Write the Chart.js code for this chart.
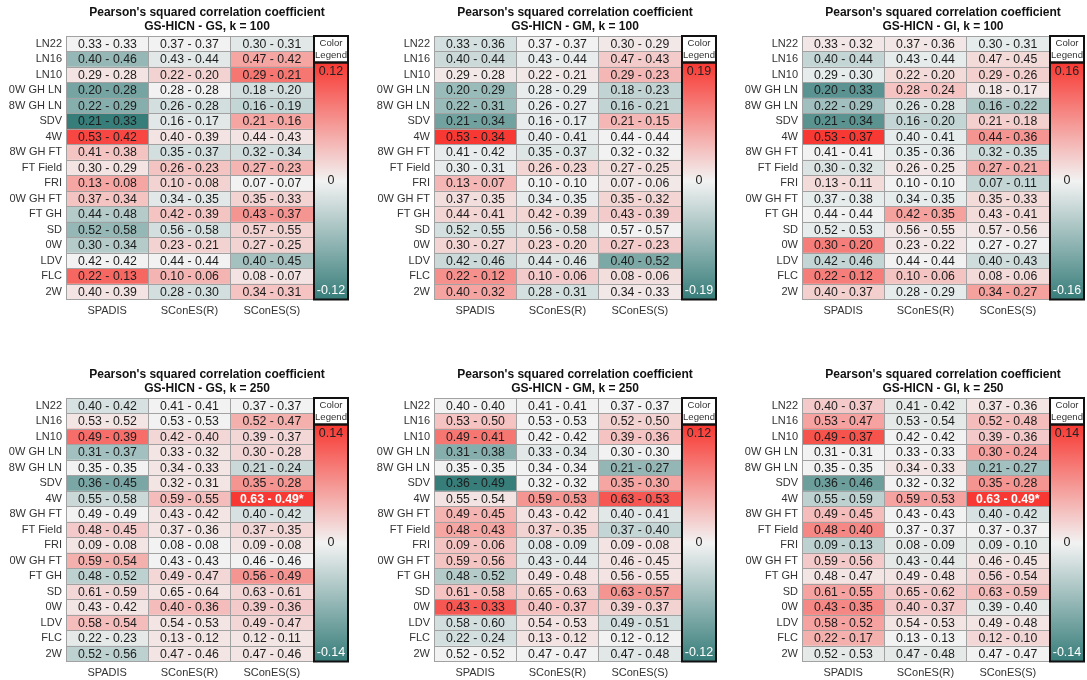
<!DOCTYPE html>
<html>
<head>
<meta charset="utf-8">
<script src="https://cdn.jsdelivr.net/npm/chart.js@4.4.1/dist/chart.umd.min.js"></script>
<style>
  html, body { margin: 0; padding: 0; background: #fff; width: 1087px; height: 680px; overflow: hidden; }
  canvas { position: absolute; }
</style>
</head>
<body>
<script>
// Phenotypes (rows) and selection methods (columns)
const traits = ['LN22', 'LN16', 'LN10', '0W GH LN', '8W GH LN', 'SDV', '4W', '8W GH FT',
  'FT Field', 'FRI', '0W GH FT', 'FT GH', 'SD', '0W', 'LDV', 'FLC', '2W'];
const methods = ['SPADIS', 'SConES(R)', 'SConES(S)'];
const networks = ['GS', 'GM', 'GI'];
const kValues = [100, 250];

// Each row: SPADIS (GS-HICN, net) | SConES(R) (GS-HICN, net) | SConES(S) (GS-HICN, net)
const gsK100 = [
  [0.33, 0.33, 0.37, 0.37, 0.30, 0.31],
  [0.40, 0.46, 0.43, 0.44, 0.47, 0.42],
  [0.29, 0.28, 0.22, 0.20, 0.29, 0.21],
  [0.20, 0.28, 0.28, 0.28, 0.18, 0.20],
  [0.22, 0.29, 0.26, 0.28, 0.16, 0.19],
  [0.21, 0.33, 0.16, 0.17, 0.21, 0.16],
  [0.53, 0.42, 0.40, 0.39, 0.44, 0.43],
  [0.41, 0.38, 0.35, 0.37, 0.32, 0.34],
  [0.30, 0.29, 0.26, 0.23, 0.27, 0.23],
  [0.13, 0.08, 0.10, 0.08, 0.07, 0.07],
  [0.37, 0.34, 0.34, 0.35, 0.35, 0.33],
  [0.44, 0.48, 0.42, 0.39, 0.43, 0.37],
  [0.52, 0.58, 0.56, 0.58, 0.57, 0.55],
  [0.30, 0.34, 0.23, 0.21, 0.27, 0.25],
  [0.42, 0.42, 0.44, 0.44, 0.40, 0.45],
  [0.22, 0.13, 0.10, 0.06, 0.08, 0.07],
  [0.40, 0.39, 0.28, 0.30, 0.34, 0.31]
];
const gmK100 = [
  [0.33, 0.36, 0.37, 0.37, 0.30, 0.29],
  [0.40, 0.44, 0.43, 0.44, 0.47, 0.43],
  [0.29, 0.28, 0.22, 0.21, 0.29, 0.23],
  [0.20, 0.29, 0.28, 0.29, 0.18, 0.23],
  [0.22, 0.31, 0.26, 0.27, 0.16, 0.21],
  [0.21, 0.34, 0.16, 0.17, 0.21, 0.15],
  [0.53, 0.34, 0.40, 0.41, 0.44, 0.44],
  [0.41, 0.42, 0.35, 0.37, 0.32, 0.32],
  [0.30, 0.31, 0.26, 0.23, 0.27, 0.25],
  [0.13, 0.07, 0.10, 0.10, 0.07, 0.06],
  [0.37, 0.35, 0.34, 0.35, 0.35, 0.32],
  [0.44, 0.41, 0.42, 0.39, 0.43, 0.39],
  [0.52, 0.55, 0.56, 0.58, 0.57, 0.57],
  [0.30, 0.27, 0.23, 0.20, 0.27, 0.23],
  [0.42, 0.46, 0.44, 0.46, 0.40, 0.52],
  [0.22, 0.12, 0.10, 0.06, 0.08, 0.06],
  [0.40, 0.32, 0.28, 0.31, 0.34, 0.33]
];
const giK100 = [
  [0.33, 0.32, 0.37, 0.36, 0.30, 0.31],
  [0.40, 0.44, 0.43, 0.44, 0.47, 0.45],
  [0.29, 0.30, 0.22, 0.20, 0.29, 0.26],
  [0.20, 0.33, 0.28, 0.24, 0.18, 0.17],
  [0.22, 0.29, 0.26, 0.28, 0.16, 0.22],
  [0.21, 0.34, 0.16, 0.20, 0.21, 0.18],
  [0.53, 0.37, 0.40, 0.41, 0.44, 0.36],
  [0.41, 0.41, 0.35, 0.36, 0.32, 0.35],
  [0.30, 0.32, 0.26, 0.25, 0.27, 0.21],
  [0.13, 0.11, 0.10, 0.10, 0.07, 0.11],
  [0.37, 0.38, 0.34, 0.35, 0.35, 0.33],
  [0.44, 0.44, 0.42, 0.35, 0.43, 0.41],
  [0.52, 0.53, 0.56, 0.55, 0.57, 0.56],
  [0.30, 0.20, 0.23, 0.22, 0.27, 0.27],
  [0.42, 0.46, 0.44, 0.44, 0.40, 0.43],
  [0.22, 0.12, 0.10, 0.06, 0.08, 0.06],
  [0.40, 0.37, 0.28, 0.29, 0.34, 0.27]
];
const gsK250 = [
  [0.40, 0.42, 0.41, 0.41, 0.37, 0.37],
  [0.53, 0.52, 0.53, 0.53, 0.52, 0.47],
  [0.49, 0.39, 0.42, 0.40, 0.39, 0.37],
  [0.31, 0.37, 0.33, 0.32, 0.30, 0.28],
  [0.35, 0.35, 0.34, 0.33, 0.21, 0.24],
  [0.36, 0.45, 0.32, 0.31, 0.35, 0.28],
  [0.55, 0.58, 0.59, 0.55, 0.63, 0.49],
  [0.49, 0.49, 0.43, 0.42, 0.40, 0.42],
  [0.48, 0.45, 0.37, 0.36, 0.37, 0.35],
  [0.09, 0.08, 0.08, 0.08, 0.09, 0.08],
  [0.59, 0.54, 0.43, 0.43, 0.46, 0.46],
  [0.48, 0.52, 0.49, 0.47, 0.56, 0.49],
  [0.61, 0.59, 0.65, 0.64, 0.63, 0.61],
  [0.43, 0.42, 0.40, 0.36, 0.39, 0.36],
  [0.58, 0.54, 0.54, 0.53, 0.49, 0.47],
  [0.22, 0.23, 0.13, 0.12, 0.12, 0.11],
  [0.52, 0.56, 0.47, 0.46, 0.47, 0.46]
];
const gmK250 = [
  [0.40, 0.40, 0.41, 0.41, 0.37, 0.37],
  [0.53, 0.50, 0.53, 0.53, 0.52, 0.50],
  [0.49, 0.41, 0.42, 0.42, 0.39, 0.36],
  [0.31, 0.38, 0.33, 0.34, 0.30, 0.30],
  [0.35, 0.35, 0.34, 0.34, 0.21, 0.27],
  [0.36, 0.49, 0.32, 0.32, 0.35, 0.30],
  [0.55, 0.54, 0.59, 0.53, 0.63, 0.53],
  [0.49, 0.45, 0.43, 0.42, 0.40, 0.41],
  [0.48, 0.43, 0.37, 0.35, 0.37, 0.40],
  [0.09, 0.06, 0.08, 0.09, 0.09, 0.08],
  [0.59, 0.56, 0.43, 0.44, 0.46, 0.45],
  [0.48, 0.52, 0.49, 0.48, 0.56, 0.55],
  [0.61, 0.58, 0.65, 0.63, 0.63, 0.57],
  [0.43, 0.33, 0.40, 0.37, 0.39, 0.37],
  [0.58, 0.60, 0.54, 0.53, 0.49, 0.51],
  [0.22, 0.24, 0.13, 0.12, 0.12, 0.12],
  [0.52, 0.52, 0.47, 0.47, 0.47, 0.48]
];
const giK250 = [
  [0.40, 0.37, 0.41, 0.42, 0.37, 0.36],
  [0.53, 0.47, 0.53, 0.54, 0.52, 0.48],
  [0.49, 0.37, 0.42, 0.42, 0.39, 0.36],
  [0.31, 0.31, 0.33, 0.33, 0.30, 0.24],
  [0.35, 0.35, 0.34, 0.33, 0.21, 0.27],
  [0.36, 0.46, 0.32, 0.32, 0.35, 0.28],
  [0.55, 0.59, 0.59, 0.53, 0.63, 0.49],
  [0.49, 0.45, 0.43, 0.43, 0.40, 0.42],
  [0.48, 0.40, 0.37, 0.37, 0.37, 0.37],
  [0.09, 0.13, 0.08, 0.09, 0.09, 0.10],
  [0.59, 0.56, 0.43, 0.44, 0.46, 0.45],
  [0.48, 0.47, 0.49, 0.48, 0.56, 0.54],
  [0.61, 0.55, 0.65, 0.62, 0.63, 0.59],
  [0.43, 0.35, 0.40, 0.37, 0.39, 0.40],
  [0.58, 0.52, 0.54, 0.53, 0.49, 0.48],
  [0.22, 0.17, 0.13, 0.13, 0.12, 0.10],
  [0.52, 0.53, 0.47, 0.48, 0.47, 0.47]
];

// Colour-scale limits (GS, GM, GI)
const limitsK100 = [0.12, 0.19, 0.16];
const limitsK250 = [0.14, 0.12, 0.14];

// Significant differences: [network index, trait index, method index] for k = 250
const significantK250 = [[0, 6, 2], [2, 6, 2]];

const FONT = '"Liberation Sans", Arial, Helvetica, sans-serif';
const GRID = '#a2a2a2';
const MID = [242, 242, 242], HIGH = [248, 56, 50], LOW = [55, 125, 122];

function mix(t) {
  const tt = Math.max(-1, Math.min(1, t));
  const end = tt >= 0 ? HIGH : LOW;
  const a = Math.abs(tt);
  return 'rgb(' + MID.map((m, i) => Math.round(m + (end[i] - m) * a)).join(',') + ')';
}

const panels = [];
[[gsK100, gmK100, giK100], [gsK250, gmK250, giK250]].forEach((set, r) => {
  set.forEach((values, c) => {
    panels.push({
      values,
      row: r,
      col: c,
      net: networks[c],
      k: kValues[r],
      limit: (r === 0 ? limitsK100 : limitsK250)[c],
      stars: r === 1 ? significantK250.filter(s => s[0] === c).map(s => [s[1], s[2]]) : []
    });
  });
});

const AXIS_W = 66, AREA_W = 247, AREA_TOP = 36, CANVAS_H = 318, XAXIS_H = 18.5, LEGEND_W = 35;

// Draws the title, the cell texts and the colour legend
const heatmapDecor = {
  id: 'heatmapDecor',
  afterDraw(chart, args, opts) {
    const { ctx, chartArea } = chart;
    const p = opts.panel;
    ctx.save();

    // cell texts
    ctx.textAlign = 'center';
    ctx.textBaseline = 'middle';
    methods.forEach((m, j) => {
      const meta = chart.getDatasetMeta(j);
      meta.data.forEach((el, i) => {
        const { x, base, y } = el.getProps(['x', 'base', 'y'], true);
        const a = p.values[i][2 * j], b = p.values[i][2 * j + 1];
        const star = p.stars.some(s => s[0] === i && s[1] === j);
        ctx.font = (star ? 'bold ' : '') + '12.3px ' + FONT;
        ctx.fillStyle = star ? '#ffffff' : '#1c1c1c';
        ctx.fillText(a.toFixed(2) + ' - ' + b.toFixed(2) + (star ? '*' : ''), (x + base) / 2, y + 0.5);
      });
    });

    // colour legend
    const lx = chartArea.right, lw = LEGEND_W;
    const boxTop = chartArea.top, boxBottom = chartArea.top + 26.5, barBottom = chartArea.bottom;
    ctx.fillStyle = '#fff';
    ctx.fillRect(lx, boxTop, lw, boxBottom - boxTop);
    const g = ctx.createLinearGradient(0, boxBottom, 0, barBottom);
    g.addColorStop(0, mix(1));
    g.addColorStop(0.5, mix(0));
    g.addColorStop(1, mix(-1));
    ctx.fillStyle = g;
    ctx.fillRect(lx, boxBottom, lw, barBottom - boxBottom);
    ctx.strokeStyle = '#111';
    ctx.lineWidth = 2;
    ctx.strokeRect(lx + 1, boxTop, lw - 1, boxBottom - boxTop);
    ctx.strokeRect(lx + 1, boxBottom, lw - 1, barBottom - boxBottom);

    const cx = lx + lw / 2 + 0.5;
    ctx.font = '9.6px ' + FONT;
    ctx.fillStyle = '#333';
    ctx.fillText('Color', cx, boxTop + 7.8);
    ctx.fillText('Legend', cx, boxTop + 19.6);
    ctx.font = '12.5px ' + FONT;
    ctx.fillStyle = '#222';
    ctx.fillText(p.limit.toFixed(2), cx, boxBottom + 9);
    ctx.fillText('0', cx, (boxBottom + barBottom) / 2);
    ctx.fillStyle = '#fff';
    ctx.fillText((-p.limit).toFixed(2), cx, barBottom - 8.5);

    // title
    const tx = (chartArea.left + lx + lw) / 2;
    ctx.font = 'bold 12px ' + FONT;
    ctx.fillStyle = '#111';
    ctx.fillText("Pearson's squared correlation coefficient", tx, 12.5);
    ctx.fillText('GS-HICN - ' + p.net + ', k = ' + p.k, tx, 27);
    ctx.restore();
  }
};

panels.forEach(p => {
  const left = p.col * 368;
  const top = p.row === 0 ? 0 : 362;
  const width = Math.min(368, 1087 - left);
  const canvas = document.createElement('canvas');
  canvas.width = width;
  canvas.height = CANVAS_H;
  canvas.style.left = left + 'px';
  canvas.style.top = top + 'px';
  canvas.style.width = width + 'px';
  canvas.style.height = CANVAS_H + 'px';
  document.body.appendChild(canvas);

  const datasets = methods.map((m, j) => ({
    label: m,
    data: traits.map(() => [j, j + 1]),
    backgroundColor: p.values.map(v => mix((v[2 * j] - v[2 * j + 1]) / p.limit)),
    borderWidth: 0,
    barPercentage: 1,
    categoryPercentage: 1,
    grouped: false
  }));

  new Chart(canvas, {
    type: 'bar',
    data: { labels: traits, datasets },
    options: {
      indexAxis: 'y',
      responsive: false,
      animation: false,
      events: [],
      layout: { padding: { top: AREA_TOP, left: 0, bottom: 0, right: width - AXIS_W - AREA_W } },
      plugins: {
        legend: { display: false },
        tooltip: { enabled: false },
        title: { display: false },
        heatmapDecor: { panel: p }
      },
      scales: {
        x: {
          type: 'linear',
          min: 0,
          max: 3,
          afterBuildTicks: s => { s.ticks = [0, 0.5, 1, 1.5, 2, 2.5, 3].map(v => ({ value: v })); },
          afterFit: s => { s.height = XAXIS_H; },
          grid: {
            z: 1,
            color: c => (c.tick && Number.isInteger(c.tick.value)) ? GRID : 'rgba(0,0,0,0)',
            drawTicks: false,
            lineWidth: 1
          },
          border: { display: false },
          ticks: {
            autoSkip: false,
            maxRotation: 0,
            padding: 5,
            color: '#333',
            font: { family: FONT, size: 11 },
            callback: v => Number.isInteger(v) ? '' : methods[Math.floor(v)]
          }
        },
        y: {
          type: 'category',
          afterFit: s => { s.width = AXIS_W; },
          grid: { z: 1, offset: true, color: GRID, drawTicks: false, lineWidth: 1 },
          border: { color: GRID, z: 1 },
          ticks: {
            autoSkip: false,
            padding: 4,
            color: '#333',
            font: { family: FONT, size: 11 }
          }
        }
      }
    },
    plugins: [heatmapDecor]
  });
});
</script>
</body>
</html>
